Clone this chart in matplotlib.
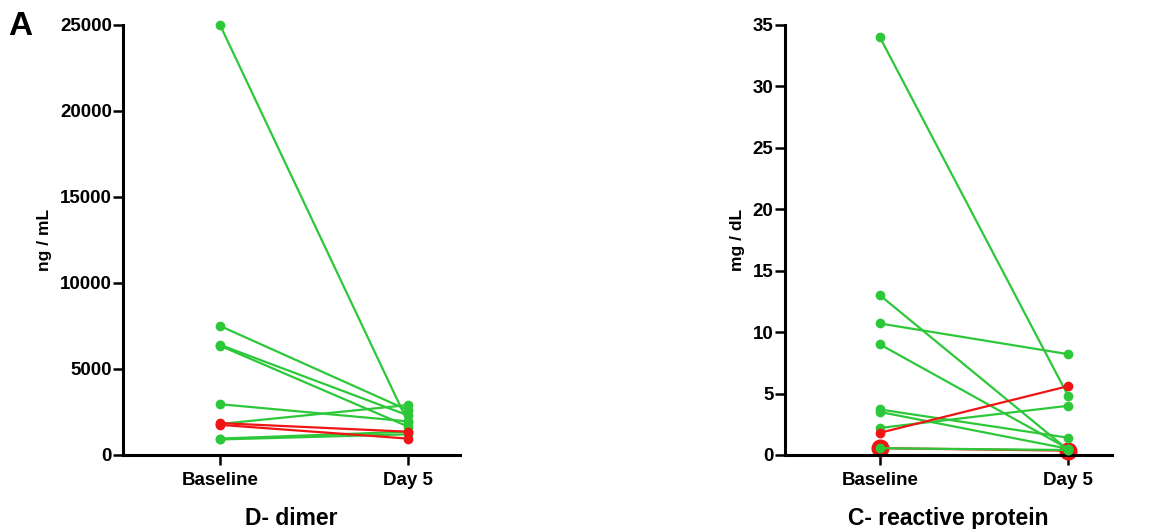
import matplotlib.pyplot as plt

plt.rcParams['font.family'] = ['Liberation Sans', 'DejaVu Sans']

# 数据
timepoints = ['Baseline', 'Day 5']

dd_base = [25000, 7500, 6400, 6350, 2950, 1800, 950, 900]
dd_day5 = [1900, 2600, 2300, 1650, 1950, 2900, 1350, 1200]
dd_red_base = [1850, 1750]
dd_red_day5 = [1350, 950]

crp_base = [34, 13.0, 10.7, 9.0, 3.7, 3.5, 2.2, 0.55]
crp_day5 = [4.8, 0.4, 8.2, 0.5, 1.4, 0.5, 4.0, 0.4]
crp_red_base = [1.8]
crp_red_day5 = [5.6]
crp_ring_base = [0.55]
crp_ring_day5 = [0.35]

green = '#2dc83a'
red = '#f01414'

fig = plt.figure(figsize=(11.54, 5.29), dpi=100)
ax1 = fig.add_axes([0.1066, 0.14, 0.292, 0.813])
ax2 = fig.add_axes([0.680, 0.14, 0.284, 0.813])


def pair_lines(ax, base, day5, color, ms=6, z=3):
    for b, d in zip(base, day5):
        ax.plot([0, 1], [b, d], '-o', color=color, lw=1.6, ms=ms, zorder=z, clip_on=False)


def style(ax, ymax, step, ylabel, title):
    ax.set_ylim(0, ymax)
    ax.set_yticks(range(0, ymax + 1, step))
    ax.set_xticks([0, 1])
    ax.set_xticklabels(timepoints, fontsize=13.5, fontweight='bold')
    for lab in ax.get_yticklabels():
        lab.set_fontsize(13.5)
        lab.set_fontweight('bold')
    ax.spines['top'].set_visible(False)
    ax.spines['right'].set_visible(False)
    ax.spines['left'].set_linewidth(2.2)
    ax.spines['bottom'].set_linewidth(2.2)
    ax.tick_params(axis='y', length=7, width=1.8, pad=1)
    ax.tick_params(axis='x', length=7, width=1.8, pad=5)
    ax.set_ylabel(ylabel, fontsize=12.5, fontweight='bold', labelpad=6)
    ax.set_xlabel(title, fontsize=16.5, fontweight='bold', labelpad=13)


# D-dimer
pair_lines(ax1, dd_base, dd_day5, green)
pair_lines(ax1, dd_red_base, dd_red_day5, red, z=4)
ax1.set_xlim(-0.516, 1.277)
style(ax1, 25000, 5000, 'ng / mL', 'D- dimer')

# CRP
pair_lines(ax2, crp_ring_base, crp_ring_day5, red, ms=12, z=2)
pair_lines(ax2, crp_base, crp_day5, green)
pair_lines(ax2, crp_red_base, crp_red_day5, red, z=4)
ax2.set_xlim(-0.505, 1.235)
style(ax2, 35, 5, 'mg / dL', 'C- reactive protein')

fig.text(0.007, 0.934, 'A', fontsize=24, fontweight='bold')

plt.savefig('out.png', dpi=100)
